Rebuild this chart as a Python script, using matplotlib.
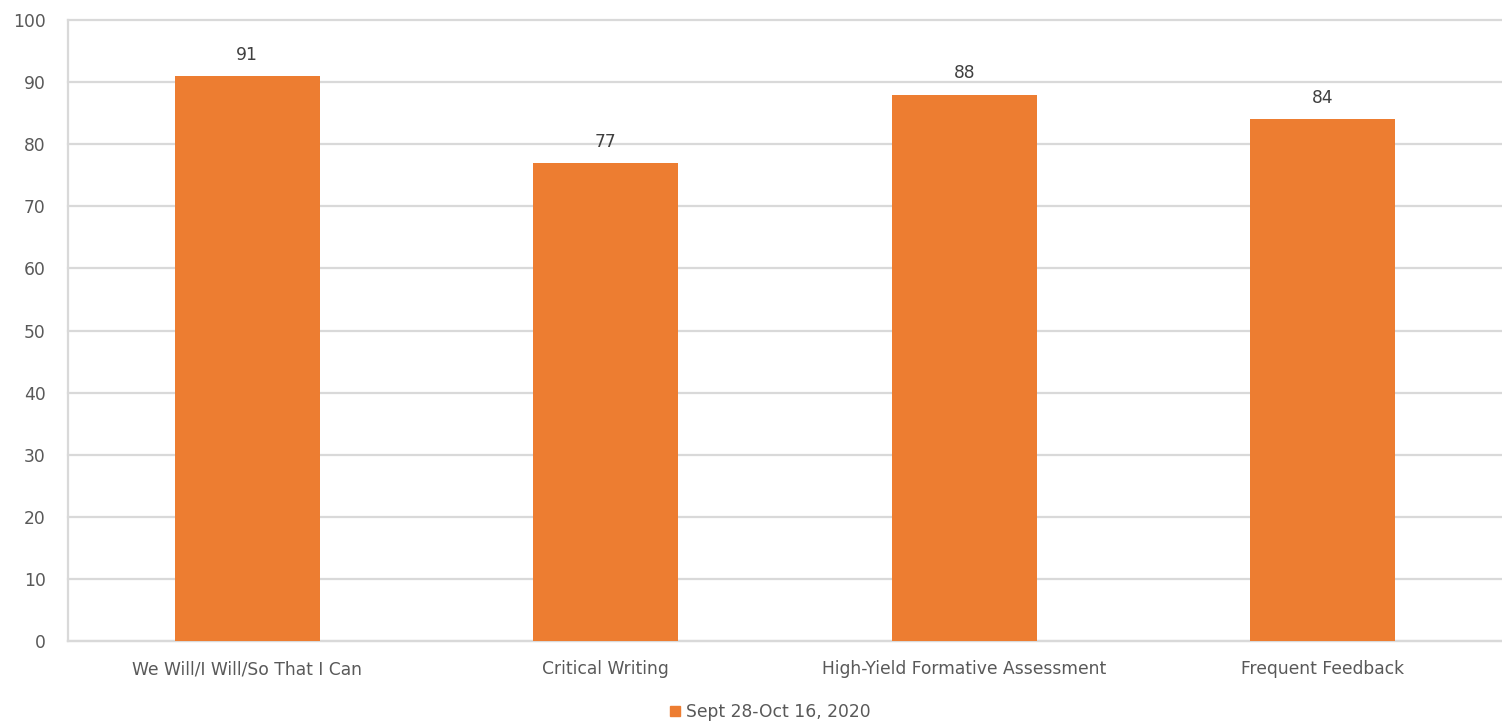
import matplotlib.pyplot as plt
from matplotlib.patches import Patch

categories = ['We Will/I Will/So That I Can', 'Critical Writing',
              'High-Yield Formative Assessment', 'Frequent Feedback']
values = [91, 77, 88, 84]
series_name = 'Sept 28-Oct 16, 2020'
yticks = list(range(0, 101, 10))

BAR_COLOR = '#ED7D31'
TEXT_COLOR = '#595959'
GRID_COLOR = '#D9D9D9'
FS = 12.3

plt.rcParams['font.family'] = ['DejaVu Sans']

fig = plt.figure(figsize=(15.02, 7.24), dpi=100)
ax = fig.add_axes([68 / 1502, 1 - 641 / 724, 1 - 68 / 1502, (641 - 20) / 724])

x = range(len(categories))
bars = ax.bar(x, values, width=0.405, color=BAR_COLOR, zorder=3)
for b, v in zip(bars, values):
    ax.text(b.get_x() + b.get_width() / 2, v + 3.4, str(v), ha='center', va='center',
            fontsize=FS, color='#404040')

ax.set_xlim(-0.5, 3.5)
ax.set_ylim(0, 100)
ax.set_yticks(yticks)
ax.set_xticks(list(x))
ax.set_xticklabels(categories)
ax.tick_params(axis='both', length=0, labelsize=FS, colors=TEXT_COLOR)
ax.tick_params(axis='y', pad=16)
ax.tick_params(axis='x', pad=14)
ax.grid(axis='y', color=GRID_COLOR, linewidth=1.6, zorder=0)
# keep the 100 line at full width
for line in ax.get_ygridlines():
    line.set_clip_on(False)
for side in ['top', 'right']:
    ax.spines[side].set_visible(False)
for side in ['bottom', 'left']:
    ax.spines[side].set_color(GRID_COLOR)
    ax.spines[side].set_linewidth(1.6)

fig.legend(handles=[Patch(color=BAR_COLOR, label=series_name)], loc='center',
           bbox_to_anchor=(770 / 1502, 1 - 712 / 724), frameon=False, fontsize=FS,
           handlelength=0.58, handleheight=0.58, handletextpad=0.35, labelcolor=TEXT_COLOR,
           borderpad=0, borderaxespad=0)

fig.savefig('out.png', dpi=100)
